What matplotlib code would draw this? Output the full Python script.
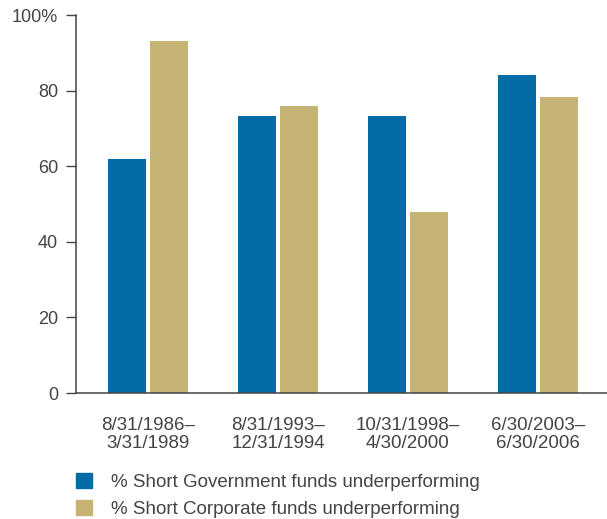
import numpy as np
import matplotlib
matplotlib.use('Agg')
import matplotlib.pyplot as plt
from matplotlib.patches import Patch

# Share of funds underperforming, by period
periods = ['8/31/1986–\n3/31/1989', '8/31/1993–\n12/31/1994',
           '10/31/1998–\n4/30/2000', '6/30/2003–\n6/30/2006']
govt_pct = [62, 73.3, 73.3, 84]
corp_pct = [93, 76, 48, 78.3]
series_labels = ['% Short Government funds underperforming',
                 '% Short Corporate funds underperforming']
yticks = [0, 20, 40, 60, 80, 100]
ytick_labels = ['0', '20', '40', '60', '80', '100%']

blue = '#036ca6'
gold = '#c5b474'
txt = '#444444'

plt.rcParams['font.family'] = ['Liberation Sans', 'DejaVu Sans']

fig = plt.figure(figsize=(6.07, 5.19), dpi=100)
ax = fig.add_axes([76/607, 1 - 393/519, 1 - 76/607, (393 - 15)/519])

x = np.arange(len(periods))
w = 0.292
off = 0.1615
ax.bar(x - off, govt_pct, width=w, color=blue, label=series_labels[0])
ax.bar(x + off, corp_pct, width=w, color=gold, label=series_labels[1])

ax.set_xlim(-0.554, 3.531)
ax.set_ylim(0, 100)
ax.set_yticks(yticks)
ax.set_yticklabels(ytick_labels)
ax.set_xticks(x)
ax.set_xticklabels(periods, linespacing=1.1)

for s in ['top', 'right']:
    ax.spines[s].set_visible(False)
for s in ['left', 'bottom']:
    ax.spines[s].set_color('#444444')
    ax.spines[s].set_linewidth(1.1)

ax.tick_params(axis='y', length=7, width=1.0, color='#444444', pad=6,
               labelsize=13, labelcolor=txt)
ax.tick_params(axis='x', length=0, pad=17, labelsize=13.5, labelcolor=txt)

handles = [Patch(color=blue), Patch(color=gold)]
fig.legend(handles, series_labels, loc='upper left',
           bbox_to_anchor=(63/607, 1 - 460/519), frameon=False,
           fontsize=13.5, labelcolor=txt, handlelength=0.85, handleheight=0.85,
           handletextpad=1.0, labelspacing=0.5, borderpad=0.2)

fig.savefig('out.png', dpi=100)
